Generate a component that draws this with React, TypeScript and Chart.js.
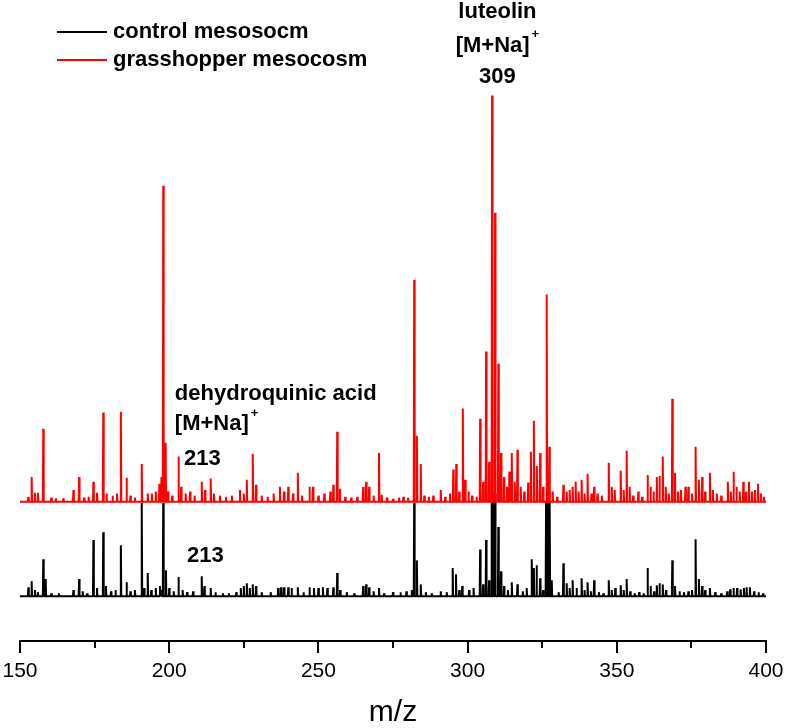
import React, { useEffect, useRef } from "react";
import { Chart, registerables } from "chart.js";

Chart.register(...registerables);

// ---------- axis ----------
const X_MIN = 150;
const X_MAX = 400;
const X_TICK_STEP = 25;
const X_LABEL_STEP = 50;
const X_TITLE = "m/z";

// ---------- series ----------
const SERIES_LABELS = ["control mesosocm", "grasshopper mesocosm"];
const SERIES_COLORS = ["#000000", "#ff0000"];

// control mesocosm: m/z and relative intensity
const controlMz = [
  152.8, 153.9, 155.0, 156.0, 157.8, 158.6, 160.5, 163.0, 167.9, 169.8, 171.0, 172.5,
  174.6, 175.8, 177.9, 178.8, 180.5, 182.0, 183.8, 185.7, 187.0, 188.5, 190.8, 191.6,
  192.8, 194.0, 195.5, 196.9, 197.4, 198.0, 198.9, 200.0, 201.5, 203.1, 204.5, 206.0,
  208.0, 210.9, 211.8, 213.9, 215.5, 218.0, 220.0, 222.5, 224.0, 225.0, 226.0, 227.0,
  228.0, 229.1, 231.0, 234.0, 236.5, 237.5, 238.5, 239.9, 241.0, 243.1, 245.0, 247.0,
  248.5, 250.0, 251.5, 253.0, 255.0, 256.3, 257.3, 259.5, 262.0, 265.0, 266.0, 267.0,
  268.5, 270.3, 272.0, 275.0, 277.5, 279.5, 281.3, 282.1, 283.0, 284.3, 286.0, 288.0,
  291.0, 293.0, 295.0, 296.1, 297.2, 298.2, 300.5, 302.0, 304.2, 305.2, 306.2, 307.2,
  308.0, 308.6, 309.2, 310.3, 311.2, 312.2, 313.5, 314.8, 316.7, 318.5, 319.8, 321.5,
  322.2, 323.1, 324.3, 325.3, 326.3, 327.0, 327.5, 328.2, 330.5, 332.1, 333.2, 334.2,
  335.2, 336.5, 338.2, 339.2, 340.2, 341.3, 342.4, 344.0, 345.5, 347.3, 348.3, 349.5,
  351.3, 352.3, 353.3, 354.5, 356.0, 357.5, 359.0, 360.3, 361.3, 362.5, 363.4, 364.3,
  365.4, 366.5, 368.6, 369.5, 371.0, 372.5, 374.0, 375.2, 376.4, 377.5, 378.6, 379.6,
  381.2, 383.0, 385.0, 387.0, 388.0, 389.1, 390.3, 391.5, 392.6, 393.5, 394.6, 396.0,
  397.5, 399.0,
];
const controlIntensity = [
  2.2, 3.7, 1.5, 1.0, 9.1, 4.2, 0.7, 0.7, 1.5, 4.2, 1.2, 0.7,
  13.8, 2.0, 15.7, 2.5, 1.2, 1.5, 12.5, 3.4, 1.2, 1.5, 22.9, 2.0,
  5.7, 1.5, 2.0, 2.5, 1.5, 22.9, 6.4, 2.0, 1.2, 4.7, 1.5, 1.0,
  1.2, 4.9, 2.5, 2.0, 1.0, 0.7, 0.7, 1.0, 2.0, 2.5, 3.2, 2.0,
  2.9, 2.5, 1.0, 1.0, 2.0, 2.2, 2.2, 2.2, 2.0, 2.2, 1.0, 2.2,
  2.0, 2.0, 2.2, 2.0, 2.2, 5.7, 1.5, 1.0, 0.7, 2.5, 2.9, 2.2,
  1.2, 2.0, 0.7, 1.0, 1.0, 1.2, 1.5, 22.9, 8.8, 2.9, 1.0, 0.7,
  1.2, 1.0, 6.9, 5.4, 1.5, 2.5, 1.5, 2.0, 11.5, 2.9, 13.8, 3.9,
  25.3, 25.3, 25.3, 17.0, 6.1, 2.5, 1.5, 3.4, 2.9, 1.2, 2.0, 9.1,
  6.9, 7.6, 4.4, 1.5, 23.1, 23.1, 23.1, 3.9, 1.0, 8.1, 3.2, 2.0,
  3.9, 2.0, 4.4, 1.5, 3.4, 1.2, 3.9, 1.0, 0.7, 3.9, 1.5, 2.0,
  2.7, 1.5, 4.2, 1.2, 0.7, 1.0, 0.7, 6.9, 2.5, 1.2, 2.7, 3.2,
  2.9, 1.5, 8.8, 2.5, 1.2, 1.0, 1.2, 1.5, 14.0, 4.2, 2.5, 1.5,
  2.0, 1.0, 0.7, 1.2, 1.7, 2.0, 2.0, 1.7, 2.0, 2.2, 2.2, 1.2,
  1.0, 0.7,
];

// grasshopper mesocosm: m/z and relative intensity
const grasshopperMz = [
  152.8, 153.9, 155.0, 156.0, 157.8, 160.5, 162.0, 164.5, 167.9, 169.8, 171.5, 173.0,
  174.6, 175.8, 177.9, 179.0, 181.0, 182.5, 183.8, 185.7, 187.0, 188.5, 190.8, 192.8,
  194.2, 195.5, 196.7, 197.4, 198.0, 198.8, 199.6, 201.0, 203.1, 204.0, 205.5, 207.0,
  208.5, 210.9, 212.0, 213.9, 215.0, 217.0, 219.0, 221.0, 223.7, 225.0, 226.0, 228.0,
  229.1, 231.0, 233.0, 235.0, 237.1, 238.5, 239.9, 241.5, 243.1, 244.5, 247.0, 248.2,
  250.0, 252.0, 254.0, 255.0, 256.3, 257.2, 259.0, 261.0, 263.0, 265.0, 266.0, 267.0,
  268.5, 270.3, 271.2, 273.0, 275.0, 277.0, 278.5, 280.0, 282.1, 283.0, 284.3, 285.5,
  287.0, 288.5, 291.0, 292.5, 294.1, 295.2, 296.2, 297.2, 298.4, 299.2, 300.3, 301.5,
  303.0, 304.2, 305.2, 306.2, 307.2, 308.2, 309.2, 310.3, 311.2, 312.2, 313.2, 314.0,
  314.8, 315.8, 316.7, 317.8, 319.0, 320.3, 321.2, 322.2, 323.2, 324.3, 325.3, 326.5,
  327.4, 328.5, 330.0, 332.1, 333.2, 334.2, 335.2, 336.2, 337.2, 338.2, 339.2, 340.2,
  341.5, 342.4, 343.5, 345.0, 347.3, 348.3, 349.3, 351.3, 352.3, 353.3, 354.3, 355.5,
  357.2, 358.5, 360.3, 361.3, 362.3, 363.4, 364.3, 365.4, 366.4, 367.4, 368.6, 369.5,
  370.5, 371.5, 373.0, 374.0, 375.2, 376.4, 377.5, 378.6, 379.6, 381.2, 382.2, 383.5,
  385.0, 387.2, 388.2, 389.1, 390.1, 391.2, 392.4, 393.3, 394.3, 395.3, 396.3, 397.3,
  398.3, 399.3,
];
const grasshopperIntensity = [
  1.2, 6.1, 2.2, 2.2, 17.9, 1.0, 0.8, 0.8, 2.9, 6.1, 1.0, 1.2,
  4.9, 2.2, 21.9, 2.0, 1.5, 2.0, 22.1, 5.9, 1.5, 1.0, 9.3, 2.0,
  2.0, 2.5, 4.4, 6.1, 77.6, 14.5, 2.5, 1.5, 11.1, 3.7, 2.0, 2.5,
  1.5, 4.9, 2.9, 5.7, 2.0, 1.5, 1.2, 1.5, 2.9, 2.0, 5.4, 11.8,
  4.2, 1.5, 1.2, 2.0, 3.7, 2.5, 3.7, 2.0, 7.1, 1.5, 3.7, 3.7,
  1.5, 2.0, 2.5, 4.2, 17.2, 3.2, 1.2, 1.0, 1.2, 3.7, 4.9, 3.7,
  1.5, 12.0, 1.7, 1.0, 0.7, 1.0, 1.2, 1.0, 54.5, 16.2, 9.3, 1.5,
  1.2, 1.5, 2.9, 1.2, 2.0, 7.9, 9.3, 2.5, 22.9, 5.4, 2.5, 1.5,
  1.2, 20.4, 4.9, 36.9, 9.8, 99.8, 71.0, 33.9, 12.0, 6.1, 3.7, 7.4,
  12.0, 4.9, 12.8, 3.7, 2.5, 4.7, 12.3, 19.9, 8.8, 12.0, 3.7, 50.9,
  13.5, 2.5, 1.2, 4.2, 2.5, 2.9, 3.7, 4.9, 2.5, 5.4, 2.0, 6.9,
  2.0, 3.7, 2.0, 1.5, 9.6, 3.7, 2.9, 7.6, 2.9, 12.5, 3.7, 1.5,
  2.5, 1.2, 6.6, 3.7, 2.5, 6.1, 6.4, 11.1, 3.7, 2.0, 25.3, 7.1,
  2.5, 2.9, 3.7, 3.7, 2.0, 13.5, 5.4, 6.1, 2.5, 7.1, 2.9, 2.0,
  1.5, 4.9, 2.5, 7.4, 3.7, 2.5, 4.9, 2.5, 4.9, 2.5, 2.9, 4.4,
  2.0, 1.2,
];

// vertical stacking offsets of each trace (y units)
const CONTROL_OFFSET = 11.0;
const GRASSHOPPER_OFFSET = 34.2;
const Y_MAX = 140;

// annotations: text lines anchored at data coordinates
type Annot = { text: string; sup?: string; x: number; y: number; align: "left" | "center" };
const ANNOTATIONS: Annot[] = [
  { text: "luteolin", x: 310, y: 154.5, align: "center" },
  { text: "[M+Na]", sup: "+", x: 310, y: 146.2, align: "center" },
  { text: "309", x: 310, y: 138.5, align: "center" },
  { text: "dehydroquinic acid", x: 201.9, y: 60.6, align: "left" },
  { text: "[M+Na]", sup: "+", x: 201.9, y: 53.2, align: "left" },
  { text: "213", x: 205.0, y: 44.6, align: "left" },
  { text: "213", x: 206.0, y: 20.8, align: "left" },
];

const FONT_FAMILY = '"Liberation Sans", Arial, Helvetica, sans-serif';

function sticks(mz: number[], inten: number[], offset: number) {
  const pts: { x: number; y: number }[] = [{ x: X_MIN, y: offset }];
  mz.forEach((m, i) => {
    pts.push({ x: m - 0.15, y: offset });
    pts.push({ x: m, y: offset + inten[i] });
    pts.push({ x: m + 0.15, y: offset });
  });
  pts.push({ x: X_MAX, y: offset });
  return pts;
}

const overlayPlugin = {
  id: "overlay",
  afterDraw(chart: any) {
    const { ctx, chartArea, scales } = chart;
    const xs = scales.x;
    const ys = scales.y;
    ctx.save();

    // minor ticks
    ctx.strokeStyle = "#000";
    ctx.lineWidth = 2;
    for (let v = X_MIN + X_TICK_STEP; v < X_MAX; v += X_LABEL_STEP) {
      const px = Math.round(xs.getPixelForValue(v));
      ctx.beginPath();
      ctx.moveTo(px, chartArea.bottom);
      ctx.lineTo(px, chartArea.bottom + 7);
      ctx.stroke();
    }

    // annotations
    ctx.fillStyle = "#000";
    ctx.textBaseline = "middle";
    const mainFont = `bold 22px ${FONT_FAMILY}`;
    const supFont = `bold 13px ${FONT_FAMILY}`;
    ANNOTATIONS.forEach((a) => {
      ctx.font = mainFont;
      const w = ctx.measureText(a.text).width;
      ctx.font = supFont;
      const sw = a.sup ? ctx.measureText(a.sup).width + 2 : 0;
      const px = xs.getPixelForValue(a.x);
      const py = ys.getPixelForValue(a.y);
      const left = a.align === "center" ? px - (w + sw) / 2 : px;
      ctx.font = mainFont;
      ctx.textAlign = "left";
      ctx.fillText(a.text, left, py);
      if (a.sup) {
        ctx.font = supFont;
        ctx.fillText(a.sup, left + w + 2, py - 11);
      }
    });

    // legend
    chart.data.datasets.forEach((ds: any, i: number) => {
      const ly = 32 + i * 28;
      ctx.strokeStyle = ds.borderColor;
      ctx.lineWidth = 2;
      ctx.beginPath();
      ctx.moveTo(57, ly);
      ctx.lineTo(107, ly);
      ctx.stroke();
      ctx.font = mainFont;
      ctx.fillStyle = "#000";
      ctx.textAlign = "left";
      ctx.fillText(ds.label, 113, ly);
    });
    ctx.restore();
  },
};

export default function App() {
  const ref = useRef<HTMLCanvasElement | null>(null);
  useEffect(() => {
    if (!ref.current) return;
    Chart.defaults.font.family = FONT_FAMILY;
    const chart = new Chart(ref.current, {
      type: "line",
      data: {
        datasets: [
          {
            label: SERIES_LABELS[0],
            data: sticks(controlMz, controlIntensity, CONTROL_OFFSET),
            borderColor: SERIES_COLORS[0],
            borderWidth: 2,
            borderJoinStyle: "bevel",
            pointRadius: 0,
            tension: 0,
            order: 1,
          },
          {
            label: SERIES_LABELS[1],
            data: sticks(grasshopperMz, grasshopperIntensity, GRASSHOPPER_OFFSET),
            borderColor: SERIES_COLORS[1],
            borderWidth: 2,
            borderJoinStyle: "bevel",
            pointRadius: 0,
            tension: 0,
            order: 0,
          },
        ],
      },
      options: {
        responsive: false,
        animation: false,
        events: [],
        layout: { padding: { top: 71, left: 20, right: 22, bottom: 0 } },
        plugins: { legend: { display: false }, tooltip: { enabled: false } },
        scales: {
          x: {
            type: "linear",
            min: X_MIN,
            max: X_MAX,
            afterFit: (s: any) => {
              s.height = 87;
              s.paddingLeft = 0;
              s.paddingRight = 0;
            },
            border: { display: true, color: "#000", width: 2 },
            grid: {
              drawOnChartArea: false,
              drawTicks: true,
              tickLength: 12,
              lineWidth: 2,
              tickColor: (c: any) =>
                c.tick && c.tick.value % X_LABEL_STEP === 0 ? "#000" : "rgba(0,0,0,0)",
            },
            ticks: {
              stepSize: X_TICK_STEP,
              autoSkip: false,
              maxRotation: 0,
              padding: 6,
              color: "#000",
              font: { size: 21, family: FONT_FAMILY },
              callback: (v: any) => (Number(v) % X_LABEL_STEP === 0 ? String(v) : ""),
            },
            title: {
              display: true,
              text: X_TITLE,
              color: "#000",
              font: { size: 30, family: FONT_FAMILY, lineHeight: 1 },
              padding: { top: 0, bottom: 0 },
            },
          },
          y: { display: false, min: 0, max: Y_MAX },
        },
      },
      plugins: [overlayPlugin],
    });
    return () => chart.destroy();
  }, []);
  return (
    <div style={{ position: "absolute", left: 0, top: 0, width: 788, height: 728, background: "#fff" }}>
      <canvas ref={ref} width={788} height={728} style={{ display: "block" }} />
    </div>
  );
}
